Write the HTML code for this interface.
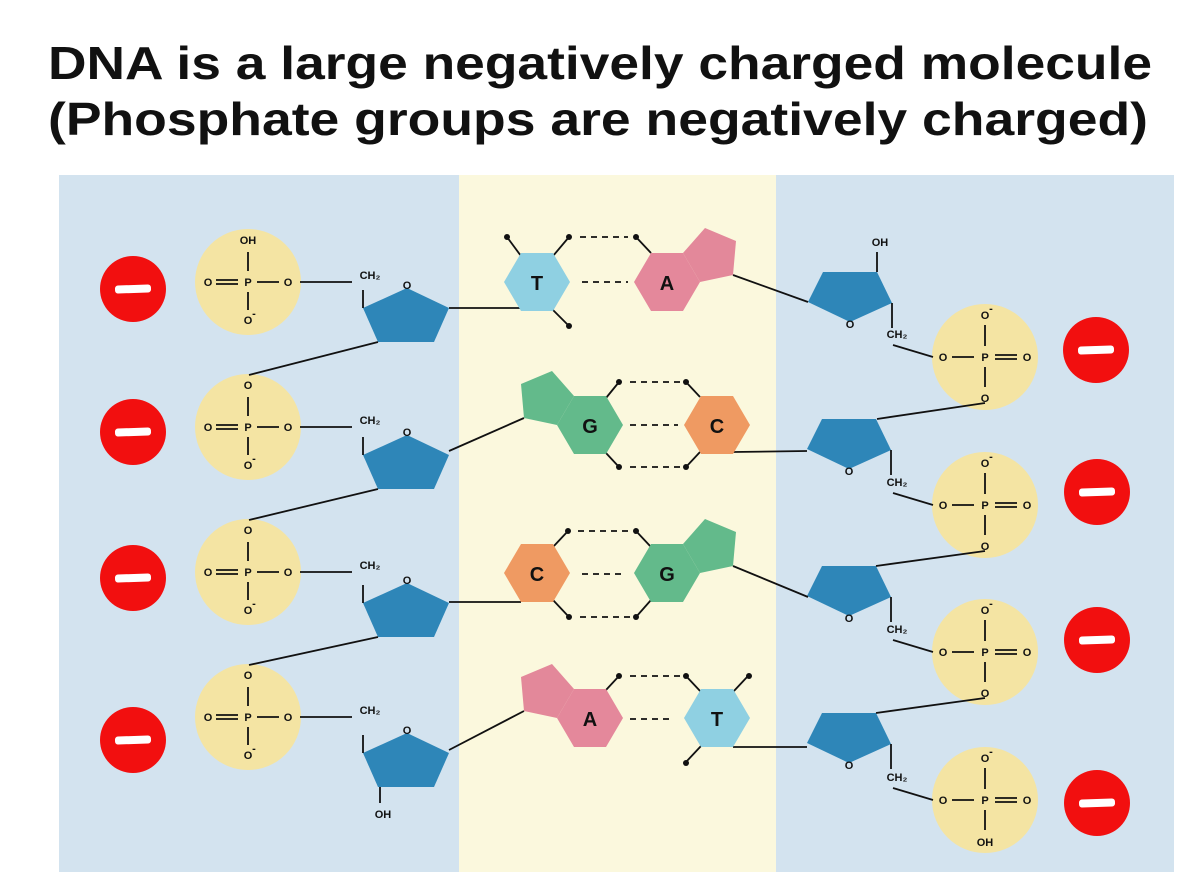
<!DOCTYPE html>
<html><head><meta charset="utf-8"><style>
html,body{margin:0;padding:0;background:#fff;width:1200px;height:872px;overflow:hidden}
svg{display:block}
.t{font-family:"Liberation Sans",sans-serif;font-weight:bold;fill:#111}
.s{font-family:"Liberation Sans",sans-serif;font-weight:bold;font-size:11px;fill:#111;text-anchor:middle}
.b{font-family:"Liberation Sans",sans-serif;font-weight:bold;font-size:20px;fill:#111;text-anchor:middle}
line,polyline{stroke:#111;stroke-width:1.8;fill:none}
.d{stroke-dasharray:6,5}
</style></head><body>
<svg width="1200" height="872" viewBox="0 0 1200 872" xmlns="http://www.w3.org/2000/svg">
<defs>
<g id="minus"><circle r="33" fill="#f20f0f"/><rect x="-18" y="-4" width="36" height="8" rx="3" fill="#fff" transform="rotate(-2)"/></g>
<g id="lsug"><polygon points="0,0 42,20 27,54 -29,54 -44,20" fill="#2e86b8"/><line x1="-44" y1="20" x2="-44" y2="2"/></g>
<g id="rsug"><polygon points="0,0 54,0 69,31 27,50 -15,30" fill="#2e86b8"/><line x1="69" y1="31" x2="69" y2="56"/></g>
<polygon id="hex" points="-33,0 -16,-29 16,-29 33,0 16,29 -16,29"/>
<polygon id="pr" points="16,-29 33,0 66,-7 69,-41 38,-54"/>
<polygon id="pl" points="-16,-29 -33,0 -66,-7 -69,-41 -38,-54"/>
</defs>
<rect width="1200" height="872" fill="#fff"/>
<rect x="59" y="175" width="400" height="697" fill="#d3e3ef"/>
<rect x="459" y="175" width="317" height="697" fill="#fbf8dd"/>
<rect x="776" y="175" width="398" height="697" fill="#d3e3ef"/>
<text class="t" x="48" y="79" font-size="46" textLength="1104" lengthAdjust="spacingAndGlyphs">DNA is a large negatively charged molecule</text>
<text class="t" x="48" y="135" font-size="46" textLength="1100" lengthAdjust="spacingAndGlyphs">(Phosphate groups are negatively charged)</text>

<use href="#minus" x="133" y="289"/><use href="#minus" x="133" y="432"/><use href="#minus" x="133" y="578"/><use href="#minus" x="133" y="740"/>
<use href="#minus" x="1096" y="350"/><use href="#minus" x="1097" y="492"/><use href="#minus" x="1097" y="640"/><use href="#minus" x="1097" y="803"/>

<g transform="translate(248,282)">
<circle r="53" fill="#f4e4a3"/>
<text class="s" x="0" y="-38">OH</text>
<line x1="0" y1="-30" x2="0" y2="-11"/>
<text class="s" x="-40" y="4">O</text><line x1="-32" y1="-2" x2="-10" y2="-2"/><line x1="-32" y1="2" x2="-10" y2="2"/>
<text class="s" x="0" y="4">P</text><line x1="9" y1="0" x2="31" y2="0"/><text class="s" x="40" y="4">O</text>
<line x1="0" y1="10" x2="0" y2="28"/><text class="s" x="0" y="42">O</text><text class="s" x="6" y="35" font-size="8">-</text>
<line x1="52" y1="0" x2="104" y2="0"/><text class="s" x="122" y="-3">CH₂</text>
</g>
<g transform="translate(248,427)">
<circle r="53" fill="#f4e4a3"/>
<text class="s" x="0" y="-38">O</text>
<line x1="0" y1="-30" x2="0" y2="-11"/>
<text class="s" x="-40" y="4">O</text><line x1="-32" y1="-2" x2="-10" y2="-2"/><line x1="-32" y1="2" x2="-10" y2="2"/>
<text class="s" x="0" y="4">P</text><line x1="9" y1="0" x2="31" y2="0"/><text class="s" x="40" y="4">O</text>
<line x1="0" y1="10" x2="0" y2="28"/><text class="s" x="0" y="42">O</text><text class="s" x="6" y="35" font-size="8">-</text>
<line x1="52" y1="0" x2="104" y2="0"/><text class="s" x="122" y="-3">CH₂</text>
</g>
<g transform="translate(248,572)">
<circle r="53" fill="#f4e4a3"/>
<text class="s" x="0" y="-38">O</text>
<line x1="0" y1="-30" x2="0" y2="-11"/>
<text class="s" x="-40" y="4">O</text><line x1="-32" y1="-2" x2="-10" y2="-2"/><line x1="-32" y1="2" x2="-10" y2="2"/>
<text class="s" x="0" y="4">P</text><line x1="9" y1="0" x2="31" y2="0"/><text class="s" x="40" y="4">O</text>
<line x1="0" y1="10" x2="0" y2="28"/><text class="s" x="0" y="42">O</text><text class="s" x="6" y="35" font-size="8">-</text>
<line x1="52" y1="0" x2="104" y2="0"/><text class="s" x="122" y="-3">CH₂</text>
</g>
<g transform="translate(248,717)">
<circle r="53" fill="#f4e4a3"/>
<text class="s" x="0" y="-38">O</text>
<line x1="0" y1="-30" x2="0" y2="-11"/>
<text class="s" x="-40" y="4">O</text><line x1="-32" y1="-2" x2="-10" y2="-2"/><line x1="-32" y1="2" x2="-10" y2="2"/>
<text class="s" x="0" y="4">P</text><line x1="9" y1="0" x2="31" y2="0"/><text class="s" x="40" y="4">O</text>
<line x1="0" y1="10" x2="0" y2="28"/><text class="s" x="0" y="42">O</text><text class="s" x="6" y="35" font-size="8">-</text>
<line x1="52" y1="0" x2="104" y2="0"/><text class="s" x="122" y="-3">CH₂</text>
</g>

<use href="#lsug" x="407" y="288"/><text class="s" x="407" y="289" font-size="10">O</text>
<use href="#lsug" x="407" y="435"/><text class="s" x="407" y="436" font-size="10">O</text>
<use href="#lsug" x="407" y="583"/><text class="s" x="407" y="584" font-size="10">O</text>
<use href="#lsug" x="407" y="733"/><text class="s" x="407" y="734" font-size="10">O</text>
<line x1="378" y1="342" x2="249" y2="375"/>
<line x1="378" y1="489" x2="249" y2="520"/>
<line x1="378" y1="637" x2="249" y2="665"/>
<line x1="380" y1="787" x2="380" y2="803"/><text class="s" x="383" y="818">OH</text>

<use href="#rsug" x="823" y="272"/><text class="s" x="850" y="328" font-size="10">O</text>
<use href="#rsug" x="822" y="419"/><text class="s" x="849" y="475" font-size="10">O</text>
<use href="#rsug" x="822" y="566"/><text class="s" x="849" y="622" font-size="10">O</text>
<use href="#rsug" x="822" y="713"/><text class="s" x="849" y="769" font-size="10">O</text>
<line x1="877" y1="272" x2="877" y2="252"/><text class="s" x="880" y="246">OH</text>

<g transform="translate(985,357)">
<circle r="53" fill="#f4e4a3"/>
<text class="s" x="-88" y="-19">CH₂</text><line x1="-92" y1="-12" x2="-52" y2="0"/>
<text class="s" x="-42" y="4">O</text><line x1="-33" y1="0" x2="-11" y2="0"/>
<text class="s" x="0" y="4">P</text><line x1="10" y1="-2" x2="32" y2="-2"/><line x1="10" y1="2" x2="32" y2="2"/><text class="s" x="42" y="4">O</text>
<text class="s" x="0" y="-38">O</text><text class="s" x="6" y="-45" font-size="8">-</text><line x1="0" y1="-32" x2="0" y2="-11"/>
<line x1="0" y1="10" x2="0" y2="30"/><text class="s" x="0" y="45">O</text>
</g>
<g transform="translate(985,505)">
<circle r="53" fill="#f4e4a3"/>
<text class="s" x="-88" y="-19">CH₂</text><line x1="-92" y1="-12" x2="-52" y2="0"/>
<text class="s" x="-42" y="4">O</text><line x1="-33" y1="0" x2="-11" y2="0"/>
<text class="s" x="0" y="4">P</text><line x1="10" y1="-2" x2="32" y2="-2"/><line x1="10" y1="2" x2="32" y2="2"/><text class="s" x="42" y="4">O</text>
<text class="s" x="0" y="-38">O</text><text class="s" x="6" y="-45" font-size="8">-</text><line x1="0" y1="-32" x2="0" y2="-11"/>
<line x1="0" y1="10" x2="0" y2="30"/><text class="s" x="0" y="45">O</text>
</g>
<g transform="translate(985,652)">
<circle r="53" fill="#f4e4a3"/>
<text class="s" x="-88" y="-19">CH₂</text><line x1="-92" y1="-12" x2="-52" y2="0"/>
<text class="s" x="-42" y="4">O</text><line x1="-33" y1="0" x2="-11" y2="0"/>
<text class="s" x="0" y="4">P</text><line x1="10" y1="-2" x2="32" y2="-2"/><line x1="10" y1="2" x2="32" y2="2"/><text class="s" x="42" y="4">O</text>
<text class="s" x="0" y="-38">O</text><text class="s" x="6" y="-45" font-size="8">-</text><line x1="0" y1="-32" x2="0" y2="-11"/>
<line x1="0" y1="10" x2="0" y2="30"/><text class="s" x="0" y="45">O</text>
</g>
<g transform="translate(985,800)">
<circle r="53" fill="#f4e4a3"/>
<text class="s" x="-88" y="-19">CH₂</text><line x1="-92" y1="-12" x2="-52" y2="0"/>
<text class="s" x="-42" y="4">O</text><line x1="-33" y1="0" x2="-11" y2="0"/>
<text class="s" x="0" y="4">P</text><line x1="10" y1="-2" x2="32" y2="-2"/><line x1="10" y1="2" x2="32" y2="2"/><text class="s" x="42" y="4">O</text>
<text class="s" x="0" y="-38">O</text><text class="s" x="6" y="-45" font-size="8">-</text><line x1="0" y1="-32" x2="0" y2="-11"/>
<line x1="0" y1="10" x2="0" y2="30"/><text class="s" x="0" y="46">OH</text>
</g>
<line x1="985" y1="403" x2="877" y2="419"/>
<line x1="985" y1="551" x2="876" y2="566"/>
<line x1="985" y1="698" x2="876" y2="713"/>

<!-- Row1: T - A -->
<line x1="449" y1="308" x2="521" y2="308"/>
<line x1="521" y1="256" x2="507" y2="237"/><circle cx="507" cy="237" r="3" fill="#111"/>
<line x1="553" y1="256" x2="569" y2="237"/><circle cx="569" cy="237" r="3" fill="#111"/>
<line x1="553" y1="310" x2="569" y2="326"/><circle cx="569" cy="326" r="3" fill="#111"/>
<line class="d" x1="580" y1="237" x2="628" y2="237"/>
<line class="d" x1="582" y1="282" x2="628" y2="282"/>
<line x1="636" y1="237" x2="651" y2="253"/><circle cx="636" cy="237" r="3" fill="#111"/>
<use href="#pr" x="667" y="282" fill="#e3889a"/>
<line x1="733" y1="275" x2="808" y2="302"/>
<use href="#hex" x="537" y="282" fill="#8fd0e2"/><text class="b" x="537" y="290">T</text>
<use href="#hex" x="667" y="282" fill="#e4889b"/><text class="b" x="667" y="290">A</text>

<!-- Row2: G - C -->
<line x1="449" y1="451" x2="524" y2="418"/>
<use href="#pl" x="590" y="425" fill="#63ba8b"/>
<line x1="606" y1="398" x2="619" y2="382"/><circle cx="619" cy="382" r="3" fill="#111"/>
<line x1="606" y1="453" x2="619" y2="467"/><circle cx="619" cy="467" r="3" fill="#111"/>
<line class="d" x1="630" y1="382" x2="680" y2="382"/>
<line class="d" x1="630" y1="425" x2="678" y2="425"/>
<line class="d" x1="630" y1="467" x2="680" y2="467"/>
<line x1="686" y1="382" x2="700" y2="397"/><circle cx="686" cy="382" r="3" fill="#111"/>
<line x1="686" y1="467" x2="700" y2="452"/><circle cx="686" cy="467" r="3" fill="#111"/>
<line x1="733" y1="452" x2="807" y2="451"/>
<use href="#hex" x="590" y="425" fill="#63ba8b"/><text class="b" x="590" y="433">G</text>
<use href="#hex" x="717" y="425" fill="#ef9a62"/><text class="b" x="717" y="433">C</text>

<!-- Row3: C - G -->
<line x1="449" y1="602" x2="521" y2="602"/>
<line x1="553" y1="547" x2="568" y2="531"/><circle cx="568" cy="531" r="3" fill="#111"/>
<line x1="553" y1="600" x2="569" y2="617"/><circle cx="569" cy="617" r="3" fill="#111"/>
<line class="d" x1="578" y1="531" x2="628" y2="531"/>
<line class="d" x1="582" y1="574" x2="625" y2="574"/>
<line class="d" x1="580" y1="617" x2="630" y2="617"/>
<line x1="636" y1="531" x2="651" y2="547"/><circle cx="636" cy="531" r="3" fill="#111"/>
<line x1="636" y1="617" x2="651" y2="600"/><circle cx="636" cy="617" r="3" fill="#111"/>
<use href="#pr" x="667" y="573" fill="#63ba8b"/>
<line x1="733" y1="566" x2="808" y2="597"/>
<use href="#hex" x="537" y="573" fill="#ef9a62"/><text class="b" x="537" y="581">C</text>
<use href="#hex" x="667" y="573" fill="#63ba8b"/><text class="b" x="667" y="581">G</text>

<!-- Row4: A - T -->
<line x1="449" y1="750" x2="524" y2="711"/>
<use href="#pl" x="590" y="718" fill="#e3889a"/>
<line x1="606" y1="690" x2="619" y2="676"/><circle cx="619" cy="676" r="3" fill="#111"/>
<line class="d" x1="630" y1="676" x2="680" y2="676"/>
<line class="d" x1="630" y1="719" x2="672" y2="719"/>
<line x1="686" y1="676" x2="701" y2="692"/><circle cx="686" cy="676" r="3" fill="#111"/>
<line x1="733" y1="692" x2="748" y2="676"/><circle cx="749" cy="676" r="3" fill="#111"/>
<line x1="701" y1="746" x2="686" y2="762"/><circle cx="686" cy="763" r="3" fill="#111"/>
<line x1="733" y1="747" x2="807" y2="747"/>
<use href="#hex" x="590" y="718" fill="#e4889b"/><text class="b" x="590" y="726">A</text>
<use href="#hex" x="717" y="718" fill="#8fd0e2"/><text class="b" x="717" y="726">T</text>
</svg>
</body></html>
